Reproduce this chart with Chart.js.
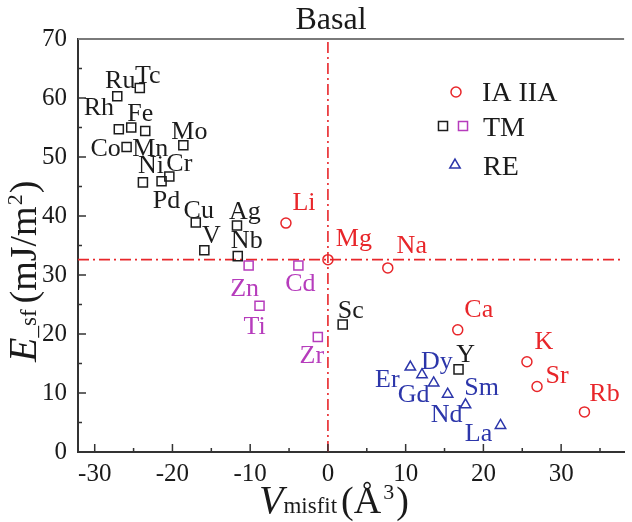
<!DOCTYPE html>
<html>
<head>
<meta charset="utf-8">
<script src="https://cdn.jsdelivr.net/npm/chart.js@4/dist/chart.umd.min.js"></script>
<style>
  html, body { margin: 0; padding: 0; background: #ffffff; }
  canvas { display: block; }
</style>
</head>
<body>
<canvas id="chart" width="632" height="522"></canvas>
<script>
// Group IA / IIA solutes
const alkaliNames = ['Li', 'Mg', 'Na', 'Ca', 'K', 'Sr', 'Rb'];
const alkaliVmisfit = [-5.4, 0, 7.7, 16.7, 25.6, 26.9, 33.0];
const alkaliEsf = [38.8, 32.6, 31.2, 20.7, 15.3, 11.1, 6.8];

// Transition metals (black squares)
const tmNames = ['Ru', 'Tc', 'Rh', 'Fe', 'Mn', 'Co', 'Mo', 'Ni', 'Pd', 'Cr', 'Cu', 'V', 'Ag', 'Nb', 'Sc', 'Y'];
const tmVmisfit = [-27.1, -24.2, -26.9, -25.3, -23.5, -25.9, -18.6, -23.8, -21.4, -20.4, -17.0, -15.9, -11.7, -11.6, 1.9, 16.8];
const tmEsf = [60.3, 61.7, 54.7, 55.0, 54.4, 51.7, 52.0, 45.7, 45.9, 46.7, 38.9, 34.2, 38.4, 33.2, 21.6, 14.0];

// Transition metals (magenta squares)
const tm2Names = ['Zn', 'Ti', 'Cd', 'Zr'];
const tm2Vmisfit = [-10.2, -8.8, -3.8, -1.3];
const tm2Esf = [31.6, 24.8, 31.6, 19.5];

// Rare earths
const reNames = ['Er', 'Dy', 'Gd', 'Sm', 'Nd', 'La'];
const reVmisfit = [10.6, 12.1, 13.6, 15.4, 17.7, 22.2];
const reEsf = [14.4, 13.1, 11.7, 9.8, 8.0, 4.5];

// Tick labels
const xTickLabels = [-30, -20, -10, 0, 10, 20, 30];
const yTickLabels = [0, 10, 20, 30, 40, 50, 60, 70];

// Axis range
const xMin = -32.15, xMax = 38.1;
const yMin = 0, yMax = 70;

const SERIF = "'Liberation Serif', 'Times New Roman', serif";
const RED = '#e8262a';
const BLACK = '#1c1c1c';
const MAGENTA = '#b63cbc';
const BLUE = '#2c36aa';

// Where each element's name sits relative to its marker (px)
const labelOffset = {
  Ru: [3, -15], Tc: [8, -12], Rh: [-20, -21], Fe: [9, -13], Mn: [5, 18], Co: [-21, 2],
  Mo: [6, -13], Ni: [8, -16], Pd: [5, 20], Cr: [10, -12], Cu: [3, -11], V: [7, -14],
  Ag: [8, -13], Nb: [9, -15], Sc: [8, -13], Y: [7, -14],
  Li: [18, -20], Mg: [26, -20], Na: [24, -22], Ca: [21, -20], K: [17, -20], Sr: [20, -10], Rb: [20, -18],
  Zn: [-4, 24], Cd: [2, 19], Ti: [-5, 21], Zr: [-6, 19],
  Er: [-23, 13], Dy: [15, -13], Gd: [-20, 12], Sm: [34, -6], Nd: [-19, 10], La: [-22, 9]
};

function points(xs, ys) { return xs.map((x, i) => ({ x: x, y: ys[i] })); }

const mgIdx = alkaliNames.indexOf('Mg');
const mgV = alkaliVmisfit[mgIdx];
const mgE = alkaliEsf[mgIdx];

const refLine = {
  type: 'line', borderColor: RED, borderWidth: 1.6, borderDash: [11, 4, 2, 4],
  pointRadius: 0, fill: false, showLine: true, order: 10
};

const datasets = [
  Object.assign({ label: 'Mg level', data: [{ x: xMin, y: mgE }, { x: xMax, y: mgE }] }, refLine),
  Object.assign({ label: 'Mg volume', data: [{ x: mgV, y: yMin }, { x: mgV, y: yMax }] }, refLine),
  { label: 'IA IIA', names: alkaliNames, data: points(alkaliVmisfit, alkaliEsf),
    pointStyle: 'circle', pointRadius: 5, borderColor: RED, backgroundColor: 'rgba(0,0,0,0)', pointBorderWidth: 1.5, textColor: RED },
  { label: 'TM', names: tmNames, data: points(tmVmisfit, tmEsf),
    pointStyle: 'rect', pointRadius: 6.4, borderColor: BLACK, backgroundColor: 'rgba(0,0,0,0)', pointBorderWidth: 1.5, textColor: BLACK },
  { label: 'TM2', names: tm2Names, data: points(tm2Vmisfit, tm2Esf),
    pointStyle: 'rect', pointRadius: 6.4, borderColor: MAGENTA, backgroundColor: 'rgba(0,0,0,0)', pointBorderWidth: 1.5, textColor: MAGENTA },
  { label: 'RE', names: reNames, data: points(reVmisfit, reEsf),
    pointStyle: 'triangle', pointRadius: 6, borderColor: BLUE, backgroundColor: 'rgba(0,0,0,0)', pointBorderWidth: 1.5, textColor: BLUE }
];

// Draws a run of text pieces with individual fonts and baseline shifts
function drawRuns(ctx, runs, x, y) {
  let cx = x;
  runs.forEach(r => {
    ctx.font = r.font;
    ctx.fillText(r.text, cx, y + (r.dy || 0));
    cx += ctx.measureText(r.text).width + (r.gap || 0);
  });
}

const decor = {
  id: 'decor',
  afterDatasetsDraw(chart) {
    const ctx = chart.ctx;
    ctx.save();
    ctx.font = '26px ' + SERIF;
    ctx.textAlign = 'center';
    ctx.textBaseline = 'middle';
    chart.data.datasets.forEach((ds, di) => {
      if (!ds.names) return;
      const meta = chart.getDatasetMeta(di);
      ctx.fillStyle = ds.textColor;
      meta.data.forEach((el, i) => {
        const name = ds.names[i];
        const off = labelOffset[name] || [0, -14];
        ctx.fillText(name, el.x + off[0], el.y + off[1]);
      });
    });
    ctx.restore();
  },
  afterDraw(chart) {
    const ctx = chart.ctx;
    const ca = chart.chartArea;
    const xs = chart.scales.x, ys = chart.scales.y;
    ctx.save();

    // top frame line
    ctx.strokeStyle = '#7a7a7a';
    ctx.lineWidth = 2;
    ctx.beginPath();
    ctx.moveTo(ca.left, ca.top);
    ctx.lineTo(ca.right, ca.top);
    ctx.stroke();

    // inward tick marks, major every 10, minor every 5
    ctx.strokeStyle = '#333';
    ctx.lineWidth = 1.5;
    ctx.beginPath();
    for (let v = -30; v <= 35; v += 5) {
      const px = xs.getPixelForValue(v);
      const len = v % 10 === 0 ? 8 : 4;
      ctx.moveTo(px, ca.bottom);
      ctx.lineTo(px, ca.bottom - len);
    }
    for (let v = 5; v <= 65; v += 5) {
      const py = ys.getPixelForValue(v);
      const len = v % 10 === 0 ? 8 : 4;
      ctx.moveTo(ca.left, py);
      ctx.lineTo(ca.left + len, py);
    }
    ctx.stroke();

    ctx.fillStyle = '#1a1a1a';
    ctx.textAlign = 'left';
    ctx.textBaseline = 'alphabetic';

    // title
    ctx.font = '32px ' + SERIF;
    ctx.textAlign = 'center';
    ctx.fillText('Basal', 331, 29);
    ctx.textAlign = 'left';

    // x-axis title
    drawRuns(ctx, [
      { text: 'V', font: 'italic 40px ' + SERIF },
      { text: 'misfit', font: '23px ' + SERIF, gap: 4 },
      { text: '(Å', font: '38px ' + SERIF, gap: 2 },
      { text: '3', font: '22px ' + SERIF, dy: -14, gap: 2 },
      { text: ')', font: '38px ' + SERIF }
    ], 259, 513);

    // y-axis title (rotated)
    ctx.save();
    ctx.translate(36, 362);
    ctx.rotate(-Math.PI / 2);
    drawRuns(ctx, [
      { text: 'E', font: 'italic 40px ' + SERIF },
      { text: '_sf', font: '23px ' + SERIF, gap: 6 },
      { text: '(mJ/m', font: '38px ' + SERIF, gap: 1 },
      { text: '2', font: '22px ' + SERIF, dy: -14, gap: 1 },
      { text: ')', font: '38px ' + SERIF }
    ], 0, 0);
    ctx.restore();

    // legend
    const H = Chart.helpers;
    const mk = (style, r, color, x, y) => H.drawPoint(ctx, {
      pointStyle: style, radius: r, borderWidth: 1.5, rotation: 0
    }, x, y) ;
    ctx.lineWidth = 1.5;
    ctx.fillStyle = 'rgba(0,0,0,0)';
    ctx.strokeStyle = RED; mk('circle', 5, RED, 456, 92);
    ctx.strokeStyle = BLACK; mk('rect', 6.4, BLACK, 443, 126);
    ctx.strokeStyle = MAGENTA; mk('rect', 6.4, MAGENTA, 463, 126);
    ctx.strokeStyle = BLUE; mk('triangle', 6, BLUE, 455, 165);
    ctx.fillStyle = '#1a1a1a';
    ctx.font = '28px ' + SERIF;
    ctx.textBaseline = 'alphabetic';
    ctx.fillText('IA IIA', 482, 101);
    ctx.fillText('TM', 483, 136);
    ctx.fillText('RE', 483, 175);

    ctx.restore();
  }
};

new Chart(document.getElementById('chart'), {
  type: 'scatter',
  data: { datasets: datasets },
  options: {
    responsive: false,
    animation: false,
    devicePixelRatio: 1,
    layout: { padding: { top: 39, left: 0, right: 0, bottom: 0 } },
    plugins: { legend: { display: false }, tooltip: { enabled: false } },
    scales: {
      x: {
        type: 'linear', min: xMin, max: xMax,
        afterBuildTicks: s => { s.ticks = xTickLabels.map(v => ({ value: v })); },
        afterFit: s => { s.height = 70; },
        grid: { display: false, drawTicks: false },
        border: { display: true, color: '#333', width: 2 },
        ticks: { font: { family: SERIF, size: 25 }, color: '#1a1a1a', padding: 7,
                 maxRotation: 0, autoSkip: false, callback: v => String(v) }
      },
      y: {
        type: 'linear', min: yMin, max: yMax,
        afterBuildTicks: s => { s.ticks = yTickLabels.map(v => ({ value: v })); },
        afterFit: s => { s.width = 78; },
        grid: { display: false, drawTicks: false },
        border: { display: true, color: '#333', width: 2 },
        ticks: { font: { family: SERIF, size: 25 }, color: '#1a1a1a', padding: 11,
                 autoSkip: false, callback: v => String(v) }
      }
    }
  },
  plugins: [decor]
});
</script>
</body>
</html>
